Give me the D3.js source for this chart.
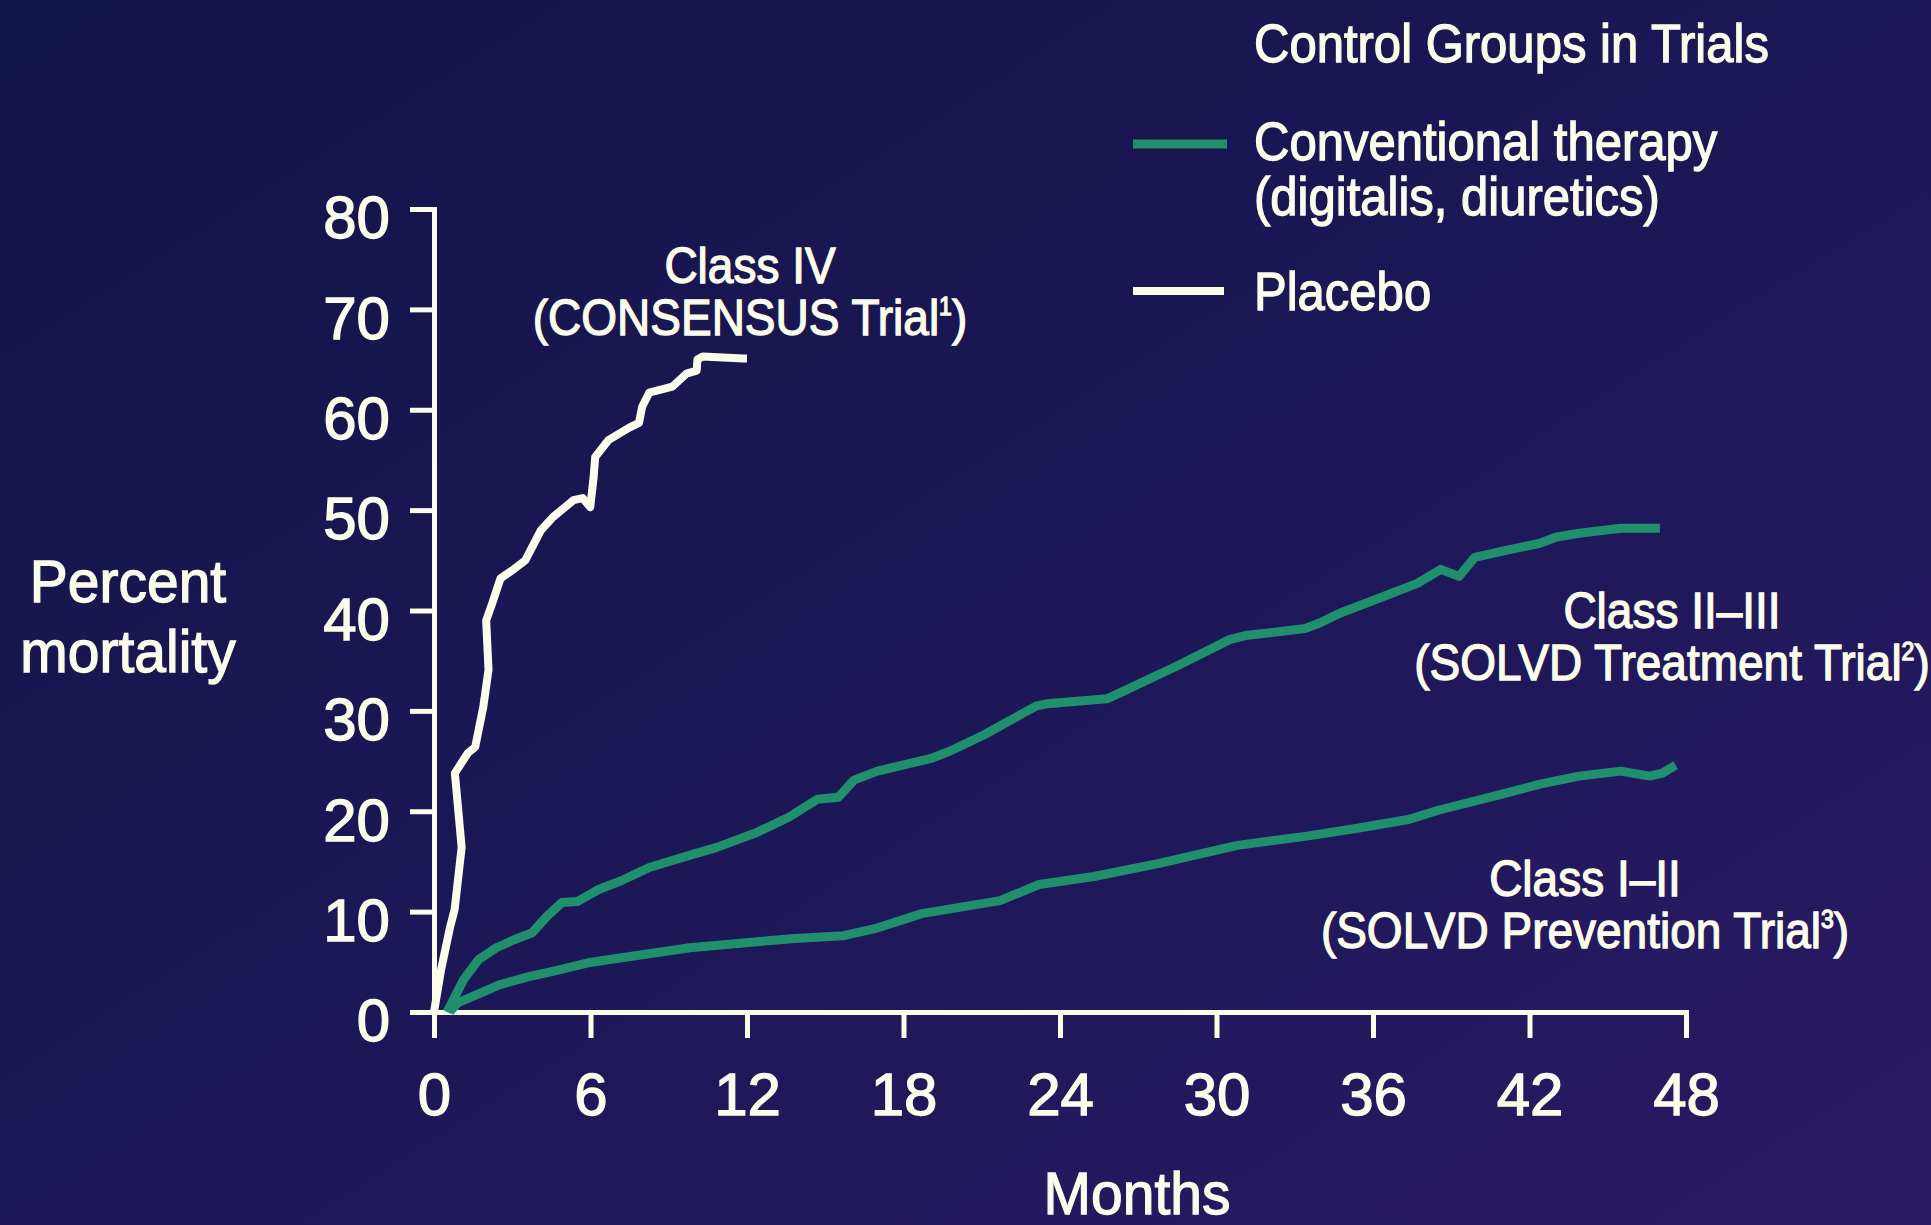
<!DOCTYPE html>
<html>
<head>
<meta charset="utf-8">
<script src="https://cdn.jsdelivr.net/npm/d3@7"></script>
<style>
  html, body { margin: 0; padding: 0; background: #1b1652; }
  svg { display: block; }
  text { font-family: "Liberation Sans", Arial, Helvetica, sans-serif; fill: #fbfce9;
         stroke: #fbfce9; stroke-width: 1.3px; }
</style>
</head>
<body>
<svg id="chart" width="1931" height="1225"></svg>
<script>
// ---- data -------------------------------------------------------------
const xTicks = [0, 6, 12, 18, 24, 30, 36, 42, 48];          // months
const yTicks = [0, 10, 20, 30, 40, 50, 60, 70, 80];         // percent mortality

// Cumulative mortality (%) by month, control groups
const consensusPlacebo = [
  [0, 0], [0.27, 4.2], [0.62, 8.5], [0.79, 10.2], [1.06, 16.4], [0.8, 23.8],
  [1.3, 25.8], [1.58, 26.4], [1.89, 30.4], [2.09, 34.1], [2.0, 39.0], [2.23, 40.7],
  [2.55, 43.2], [3.0, 44.0], [3.5, 45.0], [4.1, 48.0], [4.56, 49.3], [5.35, 51.0],
  [5.7, 51.2], [5.99, 50.3], [6.12, 53.3], [6.18, 55.3], [6.7, 57.0], [7.47, 58.2],
  [7.86, 58.7], [7.98, 60.3], [8.25, 61.7], [9.14, 62.3], [9.68, 63.6], [10.07, 63.9],
  [10.1, 65.0], [10.3, 65.3], [11.85, 65.1], [12, 65.1]
];

const solvdTreatment = [
  [0.5, 0], [1.13, 3.2], [1.7, 5.2], [2.39, 6.4], [3.07, 7.2], [3.76, 7.9], [4.32, 9.5],
  [4.9, 10.9], [5.49, 11.0], [6.31, 12.2], [7.2, 13.1], [8.25, 14.4], [9.79, 15.6],
  [10.84, 16.4], [12.3, 17.8], [13.6, 19.4], [14.7, 21.2], [15.5, 21.4], [16.1, 23.1],
  [17.0, 24.0], [19.1, 25.3], [19.7, 25.9], [21.0, 27.5], [23.1, 30.5], [23.5, 30.7],
  [25.8, 31.2], [26.3, 31.8], [28.5, 34.5], [30.5, 37.1], [31.1, 37.5], [33.4, 38.2],
  [34.0, 38.8], [34.7, 39.7], [36.2, 41.2], [37.7, 42.7], [38.6, 44.1], [39.3, 43.4],
  [39.9, 45.3], [41.1, 46.0], [42.4, 46.7], [43.0, 47.3], [43.9, 47.7], [45.5, 48.2],
  [47.0, 48.2]
];

const solvdPrevention = [
  [0.6, 0], [0.9, 0.9], [1.8, 1.9], [2.5, 2.7], [3.6, 3.5], [4.8, 4.2], [5.9, 4.9],
  [7.2, 5.4], [8.5, 5.9], [9.8, 6.4], [11.1, 6.7], [12.4, 7.0], [13.7, 7.3], [15.7, 7.6],
  [16.9, 8.3], [18.7, 9.8], [21.7, 11.1], [23.2, 12.7], [25.3, 13.5], [27.8, 14.8],
  [30.8, 16.6], [33.4, 17.5], [35.4, 18.3], [37.4, 19.2], [38.5, 20.1], [40.8, 21.6],
  [42.4, 22.7], [43.9, 23.5], [45.5, 24.0], [46.6, 23.5], [47.1, 23.8], [47.6, 24.6]
];

const legendTitle = "Control Groups in Trials";
const legendConventional = ["Conventional therapy", "(digitalis, diuretics)"];
const legendPlacebo = ["Placebo"];

// ---- drawing ----------------------------------------------------------
const cream = "#fbfce9";
const green = "#20906c";

const svg = d3.select("#chart");

const defs = svg.append("defs");
const bg = defs.append("linearGradient")
  .attr("id", "bg").attr("x1", "0").attr("y1", "0").attr("x2", "1").attr("y2", "1");
bg.append("stop").attr("offset", "0%").attr("stop-color", "#131447");
bg.append("stop").attr("offset", "55%").attr("stop-color", "#1d1758");
bg.append("stop").attr("offset", "100%").attr("stop-color", "#2a1a64");
svg.append("rect").attr("width", 1931).attr("height", 1225).attr("fill", "url(#bg)");

const x = d3.scaleLinear().domain([0, 48]).range([434, 1686]);
const y = d3.scaleLinear().domain([0, 80]).range([1012, 209]);

function styleAxis(g, fontSize) {
  g.select(".domain").attr("stroke", cream).attr("stroke-width", 5).attr("fill", "none");
  g.selectAll(".tick line").attr("stroke", cream).attr("stroke-width", 5);
  g.selectAll(".tick text").attr("fill", cream).attr("stroke", cream).attr("stroke-width", 1.3)
    .attr("font-size", fontSize).attr("font-family", "Liberation Sans, Arial, sans-serif");
}

// y axis
const gy = svg.append("g")
  .attr("transform", `translate(${x(0)},0)`)
  .call(d3.axisLeft(y).tickValues(yTicks).tickSize(24).tickPadding(20).tickFormat(d3.format("d")));
styleAxis(gy, 60);
gy.selectAll(".tick text").attr("dy", "0.48em");

// x axis
const gx = svg.append("g")
  .attr("transform", `translate(0,${y(0)})`)
  .call(d3.axisBottom(x).tickValues(xTicks).tickSize(26).tickFormat(d3.format("d")));
styleAxis(gx, 60);
gx.selectAll(".tick text").attr("y", 103).attr("dy", 0);

// curves
const line = d3.line().x(d => x(d[0])).y(d => y(d[1]));

svg.append("path").datum(solvdPrevention)
  .attr("d", line).attr("fill", "none").attr("stroke", green)
  .attr("stroke-width", 9).attr("stroke-linejoin", "round");
svg.append("path").datum(solvdTreatment)
  .attr("d", line).attr("fill", "none").attr("stroke", green)
  .attr("stroke-width", 9).attr("stroke-linejoin", "round");
svg.append("path").datum(consensusPlacebo)
  .attr("d", line).attr("fill", "none").attr("stroke", cream)
  .attr("stroke-width", 8).attr("stroke-linejoin", "round");

// Multi-line label set in a slightly narrowed face: the group is anchored at
// (ax, ay) and squeezed horizontally by sx.
function block(ax, ay, size, sx, anchor, gap) {
  const g = svg.append("g").attr("transform", `translate(${ax},${ay}) scale(${sx},1)`);
  const t = g.append("text").attr("text-anchor", anchor).attr("font-size", size);
  return { t, row: (i) => t.append("tspan").attr("x", 0).attr("y", i * gap) };
}

// axis titles
const yt = block(128, 602, 60, 0.95, "middle", 70);
yt.row(0).text("Percent");
yt.row(1).text("mortality");

const xt = block(1137, 1214, 60, 0.95, "middle", 0);
xt.row(0).text("Months");

// curve annotations
function annotate(cx, baseline, head, body, sup) {
  const b = block(cx, baseline, 50, 0.92, "middle", 52);
  b.row(0).text(head);
  b.row(1).text(body);
  b.t.append("tspan").attr("font-size", 25).attr("dy", -20).text(sup);
  b.t.append("tspan").attr("dy", 20).text(")");
}
annotate(750, 283, "Class IV", "(CONSENSUS Trial", "1");
annotate(1672, 628, "Class II\u2013III", "(SOLVD Treatment Trial", "2");
annotate(1585, 896, "Class I\u2013II", "(SOLVD Prevention Trial", "3");

// legend
const lt = block(1254, 62, 53, 0.925, "start", 0);
lt.row(0).text(legendTitle);

svg.append("line").attr("x1", 1133).attr("x2", 1227).attr("y1", 144).attr("y2", 144)
  .attr("stroke", green).attr("stroke-width", 9);
const lc = block(1254, 160, 53, 0.925, "start", 55);
legendConventional.forEach((s, i) => lc.row(i).text(s));

svg.append("line").attr("x1", 1133).attr("x2", 1224).attr("y1", 291).attr("y2", 291)
  .attr("stroke", cream).attr("stroke-width", 8);
const lp = block(1254, 310, 53, 0.925, "start", 0);
lp.row(0).text(legendPlacebo[0]);
</script>
</body>
</html>
